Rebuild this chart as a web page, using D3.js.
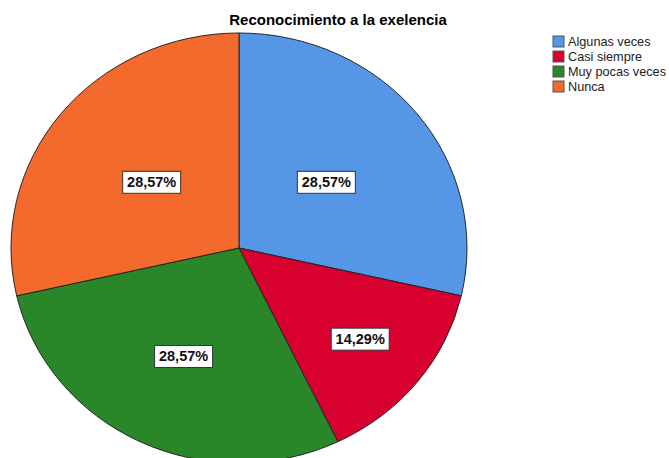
<!DOCTYPE html>
<html>
<head>
<meta charset="utf-8">
<script src="https://cdn.jsdelivr.net/npm/d3@7"></script>
<style>
  body { margin: 0; background: #fff; }
  text { font-family: Arial, "Liberation Sans", sans-serif; }
</style>
</head>
<body>
<script>
// data
var categories = ["Algunas veces", "Casi siempre", "Muy pocas veces", "Nunca"];
var values = [28.57, 14.29, 28.57, 28.57];
var labels = ["28,57%", "14,29%", "28,57%", "28,57%"];
var colors = ["#5596e6", "#d7002f", "#2a8729", "#f36a2c"];
var labelRadius = [0.49, 0.68, 0.56, 0.49]; // where SPSS put each label

var w = 669, h = 458;
var cx = 239, cy = 248;
var rx = 228, ry = 215;

var svg = d3.select("body").append("svg")
    .attr("width", w)
    .attr("height", h);

svg.append("text")
    .attr("x", 338)
    .attr("y", 25)
    .attr("text-anchor", "middle")
    .attr("font-size", "15px")
    .attr("font-weight", "bold")
    .text("Reconocimiento a la exelencia");

var pie = d3.pie().sort(null).value(function(d) { return d; });
var arcs = pie(values);

var arc = d3.arc().innerRadius(0).outerRadius(rx);

// pie is slightly squashed vertically
var g = svg.append("g")
    .attr("transform", "translate(" + cx + "," + cy + ") scale(1," + (ry / rx) + ")");

g.selectAll("path")
    .data(arcs)
    .enter()
    .append("path")
    .attr("d", arc)
    .attr("fill", function(d, i) { return colors[i]; })
    .attr("stroke", "#222")
    .attr("stroke-width", 1);

// labels
var lab = svg.selectAll("g.lab")
    .data(arcs)
    .enter()
    .append("g")
    .attr("class", "lab")
    .attr("transform", function(d, i) {
        var a = (d.startAngle + d.endAngle) / 2;
        var x = cx + Math.sin(a) * rx * labelRadius[i];
        var y = cy - Math.cos(a) * ry * labelRadius[i];
        return "translate(" + x + "," + y + ")";
    });

lab.append("rect")
    .attr("x", -29)
    .attr("y", -11)
    .attr("width", 58)
    .attr("height", 22)
    .attr("fill", "#fff")
    .attr("stroke", "#333")
    .attr("stroke-width", 1);

lab.append("text")
    .attr("text-anchor", "middle")
    .attr("y", 5)
    .attr("font-size", "14.5px")
    .attr("font-weight", "bold")
    .attr("fill", "#111")
    .text(function(d, i) { return labels[i]; });

// legend
var legend = svg.selectAll("g.leg")
    .data(categories)
    .enter()
    .append("g")
    .attr("class", "leg")
    .attr("transform", function(d, i) { return "translate(553," + (36 + i * 15) + ")"; });

legend.append("rect")
    .attr("width", 11)
    .attr("height", 11)
    .attr("fill", function(d, i) { return colors[i]; })
    .attr("stroke", "#555")
    .attr("stroke-width", 1);

legend.append("text")
    .attr("x", 15)
    .attr("y", 10)
    .attr("font-size", "12.7px")
    .attr("fill", "#222")
    .text(function(d) { return d; });
</script>
</body>
</html>
